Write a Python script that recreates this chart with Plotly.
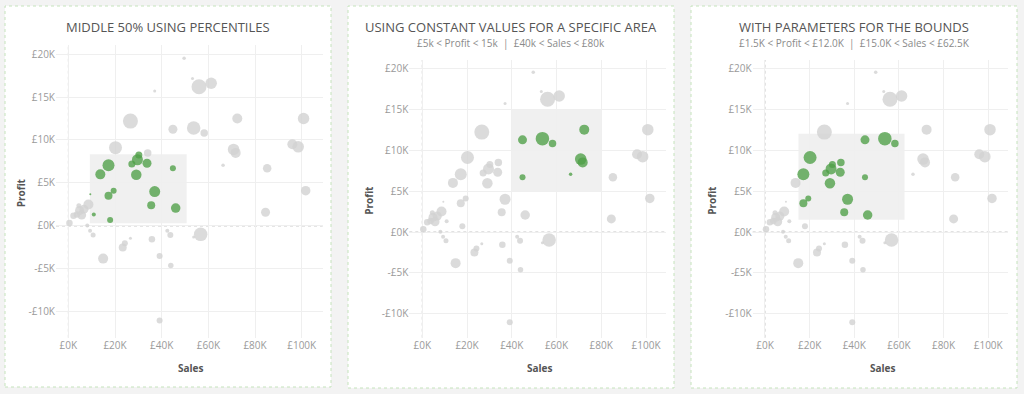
import plotly.graph_objects as go

# ---- data (sales and profit in £ thousands, bubble = size measure) ----
sales = [0.45, 2.2, 3.7, 4.8, 5.7, 6.7, 8.6, 4.5, 9.4, 8.1,
         9.3, 10.6, 10.9, 13.7, 17.2, 20.2, 17.2, 19.4, 17.9, 14.9,
         23.3, 24.2, 26.6, 26.6, 30.2, 29.6, 27.2, 34.0, 33.7, 29.1,
         37.0, 35.5, 46.0, 44.8, 44.8, 53.7, 58.2, 35.8, 39.1, 43.9,
         39.1, 42.4, 43.7, 56.7, 53.7, 37.0, 49.6, 53.2, 56.0, 61.2,
         72.4, 100.8, 70.8, 71.7, 66.3, 85.2, 96.0, 98.5, 101.7, 84.5]
profit = [0.33, 1.18, 1.34, 1.8, 1.26, 1.95, 2.5, 2.36, 3.7, 0.04,
          -0.57, -1.06, 1.33, 6.0, 7.05, 9.1, 3.5, 4.1, 0.7, -3.8,
          -2.5, -2.0, -1.43, 12.2, 8.25, 7.7, 7.2, 8.5, 7.3, 5.95,
          4.0, 2.4, 2.08, 6.7, 11.25, 11.4, 10.8, -1.55, -3.5, -4.6,
          -11.0, -0.57, -1.06, -0.98, -1.3, 15.7, 19.5, 17.15, 16.2, 16.6,
          12.5, 12.5, 8.9, 8.5, 7.05, 6.7, 9.5, 9.2, 4.1, 1.6]
bubble = [6.5, 6.5, 6.5, 9, 9, 9, 10, 5, 2, 4,
          4, 5, 4, 10, 12, 13, 8, 6, 6, 10,
          8, 6, 3, 15, 7, 11, 7, 7.5, 9, 10.5,
          11, 8, 9.5, 6, 9, 13.5, 7.5, 6.5, 6, 5.5,
          6, 4, 6, 13.5, 3, 3, 3.5, 3, 15, 11.5,
          10, 11.5, 11.5, 10, 3.5, 8.5, 10, 11.5, 9.5, 9]

x_ticks = [0, 20, 40, 60, 80, 100]
x_tick_labels = ["£0K", "£20K", "£40K", "£60K", "£80K", "£100K"]
y_ticks = [-10, -5, 0, 5, 10, 15, 20]
y_tick_labels = ["-£10K", "-£5K", "£0K", "£5K", "£10K", "£15K", "£20K"]

titles = ["MIDDLE 50% USING PERCENTILES",
          "USING CONSTANT VALUES FOR A SPECIFIC AREA",
          "WITH PARAMETERS FOR THE BOUNDS"]
subtitles = ["",
             "£5k < Profit < 15k  |  £40k < Sales < £80k",
             "£1.5K < Profit < £12.0K  |  £15.0K < Sales < £62.5K"]
sales_low = [9.2, 40, 15]
sales_high = [50.7, 80, 62.5]
profit_low = [0.3, 5, 1.5]
profit_high = [8.35, 15, 12.0]

# ---- geometry (px) ----
W, H = 1024, 394
cards = [(5, 6, 331, 387), (348, 6, 674, 388), (691, 6, 1017, 388)]
plots = [(56, 322.7, 45, 337.7), (409.3, 665.7, 60, 337.7), (752.7, 1008.3, 60, 337.7)]
xranges = [[-5.3, 109.0], [-5.8, 108.8], [-5.5, 109.0]]
yranges = [[-13.0, 21.05], [-12.9, 21.0], [-12.9, 21.0]]
ytitle_x = [21, 369, 712]

GREEN = "#4e9f46"
GRAY = "#d2d2d2"

fig = go.Figure()
shapes = []
annotations = []

def px_x(v):
    return v / W

def px_y(v):
    return 1 - v / H

for i in range(3):
    xa = "x" if i == 0 else f"x{i+1}"
    ya = "y" if i == 0 else f"y{i+1}"
    l, r, t, b = plots[i]
    cl, ct, cr, cb = cards[i]
    # card
    shapes.append(dict(type="rect", xref="paper", yref="paper",
                       x0=px_x(cl), x1=px_x(cr), y0=px_y(cb), y1=px_y(ct),
                       fillcolor="white", line=dict(color="#c5e3bc", width=1, dash="dot"),
                       layer="below"))
    # highlight box
    shapes.append(dict(type="rect", xref=xa, yref=ya,
                       x0=sales_low[i], x1=sales_high[i], y0=profit_low[i], y1=profit_high[i],
                       fillcolor="#f0f0f0", line=dict(width=0), layer="below"))
    # zero lines
    shapes.append(dict(type="line", xref=xa, yref=f"{ya} domain", x0=0, x1=0, y0=0, y1=1,
                       line=dict(color="#c4c4c4", width=1, dash="dot"), layer="below"))
    shapes.append(dict(type="line", xref=f"{xa} domain", yref=ya, x0=0, x1=1, y0=0, y1=0,
                       line=dict(color="#c4c4c4", width=1, dash="dot"), layer="below"))

    inside = [(sales_low[i] <= s <= sales_high[i]) and (profit_low[i] <= p <= profit_high[i])
              for s, p in zip(sales, profit)]
    gx = [s for s, k in zip(sales, inside) if not k]
    gy = [p for p, k in zip(profit, inside) if not k]
    gs = [q for q, k in zip(bubble, inside) if not k]
    hx = [s for s, k in zip(sales, inside) if k]
    hy = [p for p, k in zip(profit, inside) if k]
    hs = [q for q, k in zip(bubble, inside) if k]
    fig.add_trace(go.Scatter(x=gx, y=gy, mode="markers", xaxis=xa, yaxis=ya,
                             marker=dict(size=gs, sizemode="diameter", color=GRAY, opacity=0.8,
                                         line=dict(width=0)), showlegend=False))
    fig.add_trace(go.Scatter(x=hx, y=hy, mode="markers", xaxis=xa, yaxis=ya,
                             marker=dict(size=hs, sizemode="diameter", color=GREEN, opacity=0.78,
                                         line=dict(width=0)), showlegend=False))

    axis_common = dict(showgrid=True, gridcolor="#efefef", gridwidth=1, zeroline=False,
                       showline=False, ticks="", automargin=False,
                       tickfont=dict(size=10, color="#9a9a9a", family="Open Sans"))
    fig.layout[("xaxis" if i == 0 else f"xaxis{i+1}")] = dict(
        domain=[px_x(l), px_x(r)], range=xranges[i], anchor=ya,
        tickvals=x_ticks, ticktext=x_tick_labels, **axis_common)
    fig.layout[("yaxis" if i == 0 else f"yaxis{i+1}")] = dict(
        domain=[px_y(b), px_y(t)], range=yranges[i], anchor=xa,
        tickvals=y_ticks, ticktext=y_tick_labels, **axis_common)

    cx = (cl + cr) / 2
    annotations.append(dict(xref="paper", yref="paper", x=px_x(cx), y=px_y(27),
                            text=titles[i], showarrow=False, xanchor="center", yanchor="middle",
                            font=dict(size=13, color="#555555", family="Open Sans")))
    if subtitles[i]:
        annotations.append(dict(xref="paper", yref="paper", x=px_x(cx), y=px_y(43.5),
                                text=subtitles[i], showarrow=False, xanchor="center",
                                yanchor="middle",
                                font=dict(size=10, color="#8a8a8a", family="Open Sans")))
    annotations.append(dict(xref="paper", yref="paper", x=px_x((l + r) / 2 + 2), y=px_y(368),
                            text="<b>Sales</b>", showarrow=False, xanchor="center",
                            yanchor="middle", font=dict(size=10, color="#555555",
                                                        family="Open Sans")))
    annotations.append(dict(xref="paper", yref="paper", x=px_x(ytitle_x[i]), y=px_y((t + b) / 2 + 2),
                            text="<b>Profit</b>", showarrow=False, textangle=-90,
                            xanchor="center", yanchor="middle",
                            font=dict(size=10, color="#555555", family="Open Sans")))

fig.update_layout(width=W, height=H, margin=dict(l=0, r=0, t=0, b=0),
                  paper_bgcolor="#f3f3f3", plot_bgcolor="rgba(0,0,0,0)",
                  shapes=shapes, annotations=annotations, showlegend=False)

fig.write_html("out.html", config={"displayModeBar": False},
               post_script="document.body.style.margin='0';document.body.style.overflow='hidden';")
